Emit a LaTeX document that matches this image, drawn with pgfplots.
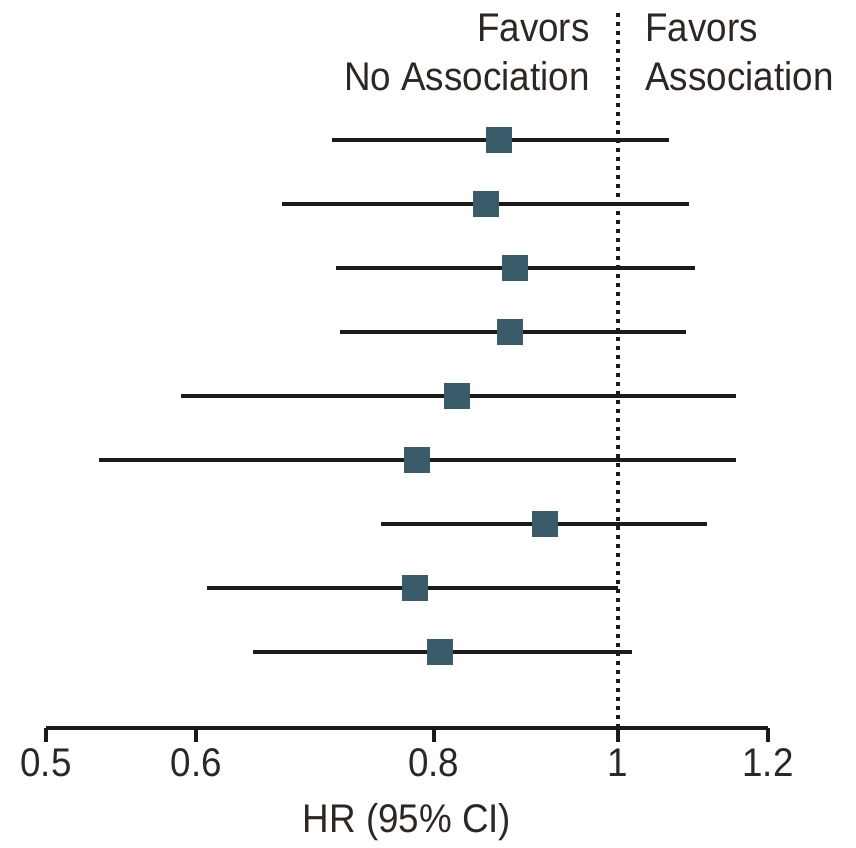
\documentclass[border=0pt]{standalone}
\usepackage{pgfplots}
\pgfplotsset{compat=1.18}
\usepackage{fontspec}
\setmainfont{Liberation Sans}[FakeStretch=0.92]
\definecolor{ink}{HTML}{1C1A1B}
\definecolor{txt}{HTML}{2E2622}
\definecolor{mk}{HTML}{3A5B69}
\begin{document}
\begin{tikzpicture}[font=\fontsize{20}{24}\selectfont]
\begin{axis}[
  scale only axis,
  width=361pt, height=359pt,
  xmode=log,
  xmin=0.5, xmax=1.2,
  ymin=-0.1875, ymax=11.03,
  axis x line=bottom,
  hide y axis,
  axis line style={line width=2pt, draw=ink, -},
  xtick={0.5,0.6,0.8,1,1.2},
  xticklabels={0.5,0.6,0.8,1,1.2},
  minor xtick={},
  tick align=outside,
  major tick length=7pt,
  xtick style={line width=2pt, draw=ink},
  xticklabel style={text=txt, anchor=north, yshift=0pt},
  xlabel={HR (95\% CI)},
  xlabel style={text=txt, at={(axis description cs:0.5,-0.1309)}, anchor=center},
  clip=false,
]
% confidence intervals
\addplot[ink, line width=2pt] coordinates {(0.707,9) (1.064,9)};
\addplot[ink, line width=2pt] coordinates {(0.666,8) (1.091,8)};
\addplot[ink, line width=2pt] coordinates {(0.711,7) (1.099,7)};
\addplot[ink, line width=2pt] coordinates {(0.714,6) (1.087,6)};
\addplot[ink, line width=2pt] coordinates {(0.589,5) (1.155,5)};
\addplot[ink, line width=2pt] coordinates {(0.533,4) (1.155,4)};
\addplot[ink, line width=2pt] coordinates {(0.751,3) (1.115,3)};
\addplot[ink, line width=2pt] coordinates {(0.608,2) (1.000,2)};
\addplot[ink, line width=2pt] coordinates {(0.643,1) (1.018,1)};
% reference line
\addplot[ink, line width=2pt, dash pattern=on 2pt off 2.5pt] coordinates {(1,-0.1875) (1,11.03)};
% point estimates
\addplot[mk, only marks, mark=square*, mark size=6.25pt, mark options={fill=mk, draw=mk, line width=0pt}] coordinates {
(0.866,9) (0.852,8) (0.883,7) (0.878,6) (0.823,5) (0.784,4) (0.916,3) (0.782,2) (0.806,1)};
% header
\node[anchor=base east, text=txt, inner sep=0pt] at (rel axis cs:0.7535,0.9554) {Favors};
\node[anchor=base east, text=txt, inner sep=0pt] at (rel axis cs:0.7535,0.8872) {No Association};
\node[anchor=base west, text=txt, inner sep=0pt] at (rel axis cs:0.8296,0.9554) {Favors};
\node[anchor=base west, text=txt, inner sep=0pt] at (rel axis cs:0.8296,0.8872) {Association};
% page frame
\path (rel axis cs:-0.0637,-0.1574) rectangle (rel axis cs:1.1219,1.0139);
\end{axis}
\end{tikzpicture}
\end{document}
